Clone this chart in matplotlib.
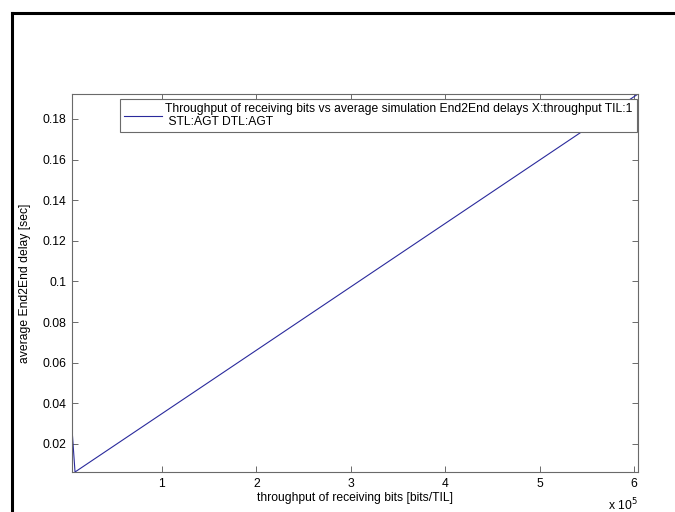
import matplotlib
matplotlib.use("Agg")
from matplotlib import pyplot as plt
from matplotlib.lines import Line2D
from matplotlib.ticker import FuncFormatter

# throughput of receiving bits [bits/TIL] vs average End2End delay [sec]
throughput = [4800, 8000, 604000]
delay = [0.0274, 0.0062, 0.1923]

x_ticks = [1e5, 2e5, 3e5, 4e5, 5e5, 6e5]
y_ticks = [0.02, 0.04, 0.06, 0.08, 0.10, 0.12, 0.14, 0.16, 0.18]

plt.rcParams['font.family'] = ['Liberation Sans', 'DejaVu Sans']
axis_col = '#6a6a6a'
fs = 8.7

fig = plt.figure(figsize=(6.75, 5.12), dpi=100)
ax = fig.add_axes([72/675, 1-472/512, 566/675, 378/512])

ax.plot(throughput, delay, '-', color='#2a2a9c', linewidth=0.8,
        label='Throughput of receiving bits vs average simulation End2End delays X:throughput TIL:1\n STL:AGT DTL:AGT')

ax.set_xlim(min(throughput), max(throughput))
ax.set_ylim(min(delay), max(delay))
ax.set_xticks(x_ticks)
ax.set_yticks(y_ticks)
ax.xaxis.set_major_formatter(FuncFormatter(lambda v, p: '%g' % (v / 1e5)))
ax.yaxis.set_major_formatter(FuncFormatter(lambda v, p: '%g' % round(v, 2)))
ax.tick_params(direction='in', top=True, right=True, length=4, width=0.7,
               color=axis_col, labelsize=fs, pad=4)
for s in ax.spines.values():
    s.set_color(axis_col)
    s.set_linewidth(0.8)

ax.text(1.0, -0.066, r'x 10$^5$', transform=ax.transAxes, ha='right', va='top', fontsize=fs)
ax.set_xlabel('throughput of receiving bits [bits/TIL]', fontsize=fs, labelpad=2)
ax.set_ylabel('average End2End delay [sec]', fontsize=fs)
ax.yaxis.set_label_coords(-0.072, 0.5)

leg = ax.legend(loc='upper right', bbox_to_anchor=(0.998, 0.987), borderaxespad=0,
                fancybox=False, fontsize=fs, handlelength=3.1, handletextpad=0.3,
                borderpad=0.35, framealpha=1)
leg.get_frame().set_edgecolor(axis_col)
leg.get_frame().set_linewidth(0.8)
for t in leg.get_texts():
    t.set_linespacing(1.05)

# black screenshot frame at left and top
fig.add_artist(Line2D([12/675, 12/675], [0, 1-13/512], color='black', linewidth=2.2,
                      transform=fig.transFigure))
fig.add_artist(Line2D([12/675, 1], [1-13/512, 1-13/512], color='black', linewidth=2.2,
                      transform=fig.transFigure))

fig.savefig('out.png', dpi=100)
